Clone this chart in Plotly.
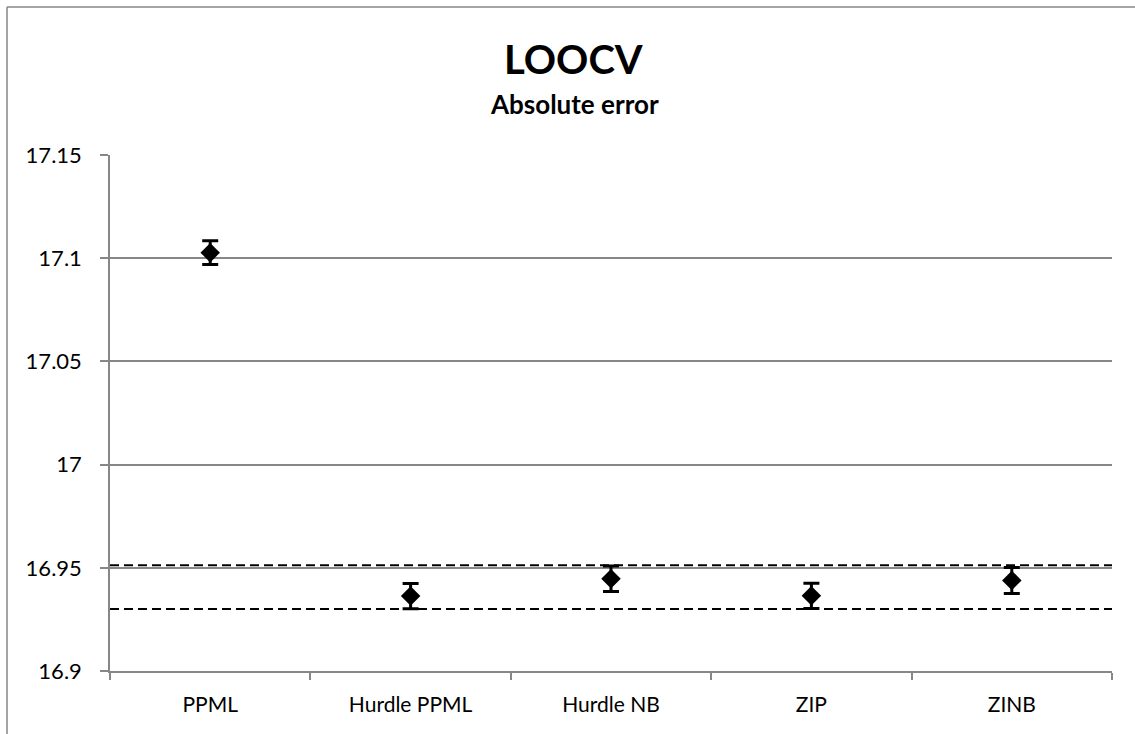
import plotly.graph_objects as go

categories = ["PPML", "Hurdle PPML", "Hurdle NB", "ZIP", "ZINB"]
values = [17.1027, 16.9363, 16.9447, 16.9364, 16.9439]
errors = [0.0058, 0.0061, 0.0062, 0.0061, 0.0063]
ref_lines = [16.9512, 16.9300]
y_ticks = [16.9, 16.95, 17.0, 17.05, 17.1, 17.15]
y_tick_labels = ["16.9", "16.95", "17", "17.05", "17.1", "17.15"]

W, H = 1135, 734
L, R, T, B = 110, 23, 155, 63
pw, ph = W - L - R, H - T - B

def px_x(x):
    return (x - L) / pw

def px_y(y):
    return (H - B - y) / ph

FONT = "Lato"
GRAY = "#878787"

fig = go.Figure()
fig.add_trace(go.Scatter(
    x=categories, y=values, mode="markers",
    marker=dict(symbol="diamond", size=15, color="black"),
    error_y=dict(type="data", array=errors, visible=True, color="black",
                 thickness=3, width=8),
    showlegend=False,
))

for v in ref_lines:
    fig.add_shape(type="line", xref="paper", yref="y", x0=0, x1=1, y0=v, y1=v,
                  line=dict(color="black", width=2, dash="9px,5px"), layer="above")

# chart border (left and top visible)
fig.add_shape(type="line", xref="paper", yref="paper",
              x0=px_x(7), x1=px_x(7), y0=px_y(7), y1=px_y(760),
              line=dict(color=GRAY, width=1.5))
fig.add_shape(type="line", xref="paper", yref="paper",
              x0=px_x(7), x1=px_x(1160), y0=px_y(7), y1=px_y(7),
              line=dict(color=GRAY, width=1.5))

fig.add_annotation(text="<b>LOOCV</b>", xref="paper", yref="paper",
                   x=px_x(573), y=px_y(59), showarrow=False,
                   xanchor="center", yanchor="middle",
                   font=dict(family=FONT, size=40, color="black"))
fig.add_annotation(text="<b>Absolute error</b>", xref="paper", yref="paper",
                   x=px_x(574), y=px_y(104), showarrow=False,
                   xanchor="center", yanchor="middle",
                   font=dict(family=FONT, size=26, color="black"))

fig.update_layout(
    width=W, height=H,
    margin=dict(l=L, r=R, t=T, b=B, pad=0),
    paper_bgcolor="white", plot_bgcolor="white",
    font=dict(family=FONT, size=22, color="black"),
)
fig.update_xaxes(
    type="category", range=[-0.5, 4.5],
    showline=True, linecolor=GRAY, linewidth=1.5,
    ticks="outside", tickson="boundaries", ticklen=7, tickcolor=GRAY, tickwidth=1.5,
    showgrid=False, zeroline=False,
    ticklabelstandoff=14,
    tickfont=dict(family=FONT, size=21, color="black"),
)
fig.update_yaxes(
    range=[16.9, 17.15], tickvals=y_ticks, ticktext=y_tick_labels,
    showline=True, linecolor=GRAY, linewidth=1.5,
    ticks="outside", ticklen=8, tickcolor=GRAY, tickwidth=1.5,
    showgrid=True, gridcolor=GRAY, gridwidth=1.5, zeroline=False,
    ticklabelstandoff=14,
    tickfont=dict(family=FONT, size=22, color="black"),
)

fig.write_html(
    "out.html",
    config={"displayModeBar": False},
    post_script="document.body.style.margin='0';document.body.style.overflow='hidden';",
)
